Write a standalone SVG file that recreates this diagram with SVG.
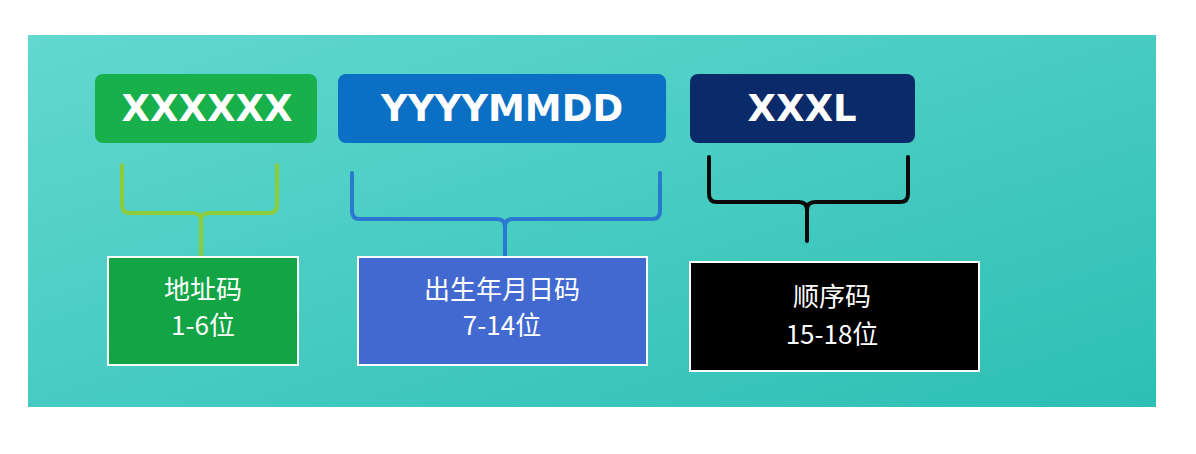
<svg xmlns="http://www.w3.org/2000/svg" width="1196" height="454" viewBox="0 0 1196 454">
<defs>
<linearGradient id="bg" x1="0" y1="0" x2="1" y2="1">
<stop offset="0" stop-color="#62d8cf"/><stop offset="1" stop-color="#2dbfb4"/>
</linearGradient>
<style>
.code{font-family:"DejaVu Sans","Liberation Sans",sans-serif;font-weight:bold;font-size:37px;fill:#fff;text-anchor:middle}
.lbl{font-family:"Noto Sans CJK SC","Noto Sans",sans-serif;font-size:26px;fill:#fff;text-anchor:middle}
.br{fill:none;stroke-width:4;stroke-linejoin:round;stroke-linecap:round}
.box{stroke:#fff;stroke-width:2}
</style>
</defs>
<rect width="1196" height="454" fill="#fff"/>
<rect x="28" y="35" width="1128" height="372" fill="url(#bg)"/>
<g id="code-address"><rect x="95" y="74" width="222" height="69" rx="8" fill="#17b04a"/><text class="code" x="207" y="121">XXXXXX</text></g>
<g id="code-birth"><rect x="338" y="74" width="328" height="69" rx="8" fill="#0b6fc4"/><text class="code" x="502" y="121">YYYYMMDD</text></g>
<g id="code-seq"><rect x="690" y="74" width="225" height="69" rx="8" fill="#0b2a6a"/><text class="code" x="802" y="121">XXXL</text></g>
<g id="connectors">
<path class="br" stroke="#8ccb3c" d="M122 165 V205 Q122 213 130 213 H193 Q201 213 201 221 V262 M201 221 Q201 213 209 213 H269 Q277 213 277 205 V165"/>
<path class="br" stroke="#2a78d0" d="M352 173 V211 Q352 219 360 219 H497 Q505 219 505 227 V268 M505 227 Q505 219 513 219 H652 Q660 219 660 211 V173"/>
<path class="br" stroke="#0a0a0a" stroke-width="5" d="M709 157 V194 Q709 202 717 202 H799 Q807 202 807 210 V241 M807 210 Q807 202 815 202 H900 Q908 202 908 194 V157"/>
</g>
<g id="label-address"><rect class="box" x="108" y="257" width="190" height="108" fill="#13a545"/><text class="lbl" x="203" y="299">地址码</text><text class="lbl" x="203" y="335">1-6位</text></g>
<g id="label-birth"><rect class="box" x="358" y="257" width="289" height="108" fill="#4169d0"/><text class="lbl" x="502" y="299">出生年月日码</text><text class="lbl" x="502" y="335">7-14位</text></g>
<g id="label-seq"><rect class="box" x="690" y="262" width="289" height="109" fill="#000"/><text class="lbl" x="832" y="306">顺序码</text><text class="lbl" x="832" y="344">15-18位</text></g>
</svg>
